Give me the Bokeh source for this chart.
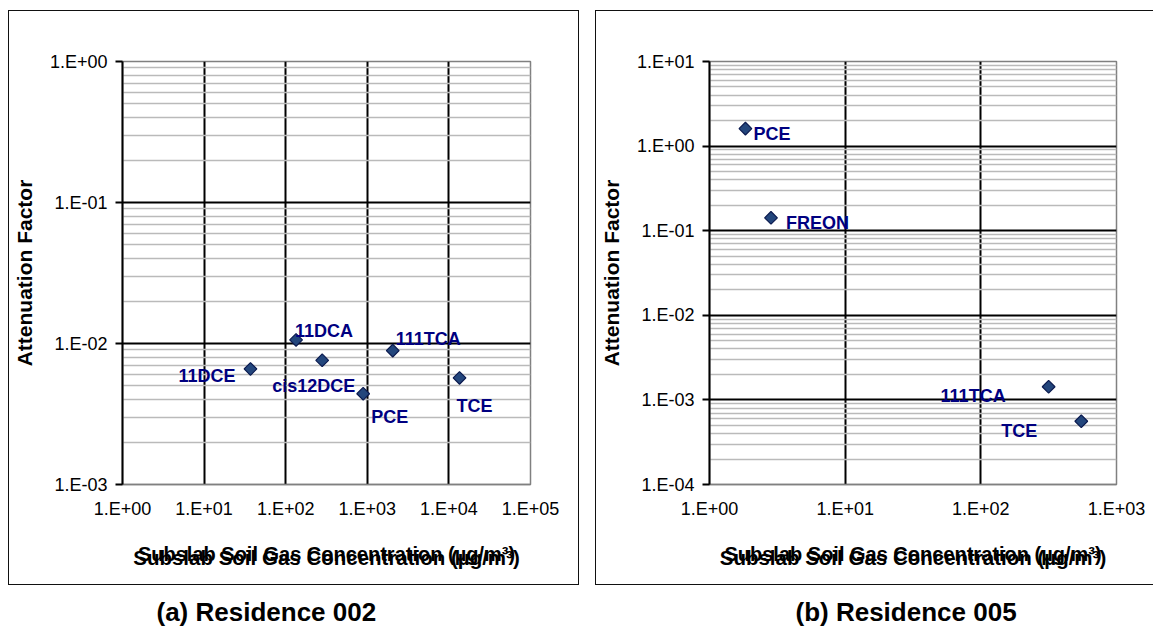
import numpy as np
from bokeh.plotting import figure
from bokeh.models import FixedTicker, Spacer, ColumnDataSource, LogAxis, Title
from bokeh.layouts import row, column
from bokeh.embed import file_html
from bokeh.resources import INLINE
from bokeh.core.properties import value

# ---------------- data ----------------
# Panel (a) Residence 002
a_names = ["11DCE", "11DCA", "cis12DCE", "PCE", "111TCA", "TCE"]
a_conc = [37.0, 134.0, 280.0, 890.0, 2050.0, 13500.0]
a_af = [0.0066, 0.0106, 0.0076, 0.0044, 0.0089, 0.0057]

# Panel (b) Residence 005
b_names = ["PCE", "FREON", "111TCA", "TCE"]
b_conc = [1.84, 2.84, 316.0, 550.0]
b_af = [1.61, 0.142, 0.00143, 0.00056]

a_xticks = [1.0, 10.0, 100.0, 1000.0, 10000.0, 100000.0]
a_xlabels = ["1.E+00", "1.E+01", "1.E+02", "1.E+03", "1.E+04", "1.E+05"]
a_yticks = [0.001, 0.01, 0.1, 1.0]
a_ylabels = ["1.E-03", "1.E-02", "1.E-01", "1.E+00"]

b_xticks = [1.0, 10.0, 100.0, 1000.0]
b_xlabels = ["1.E+00", "1.E+01", "1.E+02", "1.E+03"]
b_yticks = [0.0001, 0.001, 0.01, 0.1, 1.0, 10.0]
b_ylabels = ["1.E-04", "1.E-03", "1.E-02", "1.E-01", "1.E+00", "1.E+01"]

x_title = "Subslab Soil Gas Concentration (µg/m³)"
y_title = "Attenuation Factor"
captions = ["(a) Residence 002", "(b) Residence 005"]

# label placement (pixel offsets / alignment: style only)
a_align = ["right", "left", "right", "left", "left", "left"]
a_dx = [-15, -1, 33, 8, 3, -3]
a_dy = [7, -9, 26, 23, -12, 28]
b_align = ["left", "left", "right", "right"]
b_dx = [8, 15, -43, -44]
b_dy = [5, 5, 9, 10]

FONT = "Liberation Sans"
NAVY = "#000080"


def panel(names, conc, af, xt, xl, yt, yl, align, dx, dy,
          width, height, mbl, mbr, styles):
    p = figure(width=width, height=height,
               x_axis_type="log", y_axis_type="log",
               x_range=(xt[0], xt[-1]), y_range=(yt[0], yt[-1]),
               toolbar_location=None, output_backend="svg",
               min_border_left=mbl, min_border_right=mbr,
               min_border_top=50, min_border_bottom=102,
               background_fill_color="white", border_fill_color="white",
               outline_line_color="#808080", outline_line_width=1.5)
    p.styles = styles

    minor = [k * t for t in yt[:-1] for k in range(2, 10)]
    p.xaxis.ticker = FixedTicker(ticks=xt, minor_ticks=[])
    p.yaxis.ticker = FixedTicker(ticks=yt, minor_ticks=minor)
    p.xaxis.major_label_overrides = dict(zip(xt, xl))
    p.yaxis.major_label_overrides = dict(zip(yt, yl))

    # grids
    p.xgrid.grid_line_color = "black"
    p.xgrid.grid_line_width = 2
    p.xgrid.minor_grid_line_color = None
    p.ygrid.grid_line_color = "black"
    p.ygrid.grid_line_width = 2
    p.ygrid.minor_grid_line_color = "#BABABA"
    p.ygrid.minor_grid_line_width = 1.3

    # axes
    for ax in (p.xaxis[0], p.yaxis[0]):
        ax.major_label_text_font = FONT
        ax.major_label_text_font_size = "18px"
        ax.major_label_text_color = "black"
        ax.axis_label_text_font = FONT
        ax.axis_label_text_font_style = "bold"
        ax.axis_label_text_color = "black"
        ax.minor_tick_line_color = None

    ya = p.yaxis[0]
    ya.axis_line_color = "black"
    ya.axis_line_width = 2
    ya.major_tick_line_color = "black"
    ya.major_tick_line_width = 2
    ya.major_tick_out = 7
    ya.major_tick_in = 0
    ya.major_label_standoff = 8
    ya.axis_label = y_title
    ya.axis_label_text_font_size = "21px"
    ya.axis_label_standoff = 11

    xa = p.xaxis[0]
    xa.axis_line_color = "#808080"
    xa.axis_line_width = 1.5
    xa.major_tick_line_color = None
    xa.major_tick_out = 0
    xa.major_tick_in = 0
    xa.major_label_standoff = 14
    xa.axis_label = x_title
    xa.axis_label_text_font_size = "20.5px"
    xa.axis_label_standoff = 24

    # second (ghost) copy of the x title, slightly higher, as in the original figure
    ghost = LogAxis(ticker=FixedTicker(ticks=[]), axis_line_color=None,
                    major_tick_line_color=None, minor_tick_line_color=None,
                    major_tick_out=0, major_tick_in=0, minor_tick_out=0,
                    major_label_text_font_size="0px",
                    axis_label=x_title, axis_label_text_font=FONT,
                    axis_label_text_font_size="20px", axis_label_text_font_style="bold",
                    axis_label_text_color="black", axis_label_standoff=-29)
    p.add_layout(ghost, "below")

    src = ColumnDataSource(dict(x=conc, y=af))
    p.scatter("x", "y", source=src, marker="square", size=9, angle=np.pi / 4,
              fill_color="#23467C", line_color="#0B1A4F", line_width=1.2)

    for al in ("left", "right"):
        idx = [i for i, a in enumerate(align) if a == al]
        if not idx:
            continue
        s = ColumnDataSource(dict(x=[conc[i] for i in idx], y=[af[i] for i in idx],
                                  name=[names[i] for i in idx],
                                  dx=[dx[i] for i in idx], dy=[dy[i] for i in idx]))
        p.text("x", "y", text="name", source=s, x_offset="dx", y_offset="dy",
               text_align=al, text_baseline="alphabetic",
               text_font=value(FONT), text_font_size="18px", text_font_style="bold",
               text_color=NAVY)
    return p


def caption_fig(text, width, height, offset):
    # caption drawn as a title; the frame of this figure is aligned with the panel frame
    c = figure(width=width, height=height, toolbar_location=None, output_backend="svg",
               title=None, x_axis_location=None, y_axis_location=None,
               min_border_left=0, min_border_right=0, min_border_top=42,
               min_border_bottom=0,
               outline_line_color=None, background_fill_color="white",
               border_fill_color="white")
    c.grid.visible = False
    c.add_layout(Title(text=text, align="left", offset=offset, standoff=1,
                       text_font=FONT, text_font_size="26px", text_font_style="bold",
                       text_color="black"), "above")
    return c


pa = panel(a_names, a_conc, a_af, a_xticks, a_xlabels, a_yticks, a_ylabels,
           a_align, a_dx, a_dy, 571, 575, 112, 50,
           {"border": "1.5px solid #111111"})
pb = panel(b_names, b_conc, b_af, b_xticks, b_xlabels, b_yticks, b_ylabels,
           b_align, b_dx, b_dy, 558, 575, 112, 38,
           {"border-left": "1.5px solid #111111", "border-top": "1.5px solid #111111",
            "border-bottom": "1.5px solid #111111"})

ca = caption_fig(captions[0], 571, 46, 35)
cb = caption_fig(captions[1], 558, 46, 87)

left = column(Spacer(height=10), pa, ca)
right = column(Spacer(height=10), pb, cb)
layout = row(Spacer(width=8), left, Spacer(width=16), right)

open("out.html", "w").write(file_html(layout, INLINE))
